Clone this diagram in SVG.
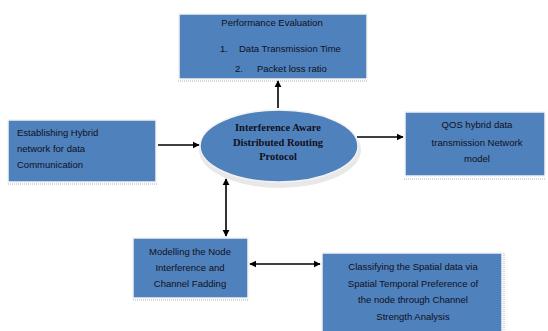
<svg xmlns="http://www.w3.org/2000/svg" width="548" height="331" viewBox="0 0 548 331">
<defs>
<style>
.box{fill:#4f81bd;stroke:#f2f2f2;stroke-width:1.5}
.shadow{stroke:#b0b0b0;stroke-width:1;stroke-dasharray:1 1;fill:none}
.t{font-family:"Liberation Sans",Arial,sans-serif;font-size:9.5px;fill:#10101c}
.c{text-anchor:middle}
.e{font-family:"Liberation Serif","Times New Roman",serif;font-size:10.5px;font-weight:bold;fill:#10101c;text-anchor:middle}
.ln{stroke:#000;stroke-width:1.6;fill:none}
</style>
<marker id="ah" viewBox="0 0 10 10" refX="9" refY="5" markerWidth="4.5" markerHeight="4.5" orient="auto-start-reverse">
<path d="M0,0 L10,5 L0,10 z" fill="#000"/>
</marker>
</defs>
<rect width="548" height="331" fill="#fff"/>
<g id="perf">
<rect class="box" x="179" y="14" width="188" height="65"/>
<line class="shadow" x1="178" y1="81" x2="368" y2="81"/>
<text class="t c" x="272" y="26">Performance Evaluation</text>
<text class="t" x="220" y="52">1.</text>
<text class="t" x="239" y="52">Data Transmission Time</text>
<text class="t" x="235" y="72">2.</text>
<text class="t" x="257" y="72">Packet loss ratio</text>
</g>
<g id="hybrid">
<rect class="box" x="8" y="120" width="148" height="62"/>
<line class="shadow" x1="8" y1="184" x2="157" y2="184"/>
<text class="t" x="17" y="136">Establishing Hybrid</text>
<text class="t" x="17" y="152">network for data</text>
<text class="t" x="17" y="168">Communication</text>
</g>
<g id="protocol">
<ellipse cx="279" cy="148" rx="81" ry="38" fill="#e8e8e8" transform="translate(1,2)"/>
<ellipse cx="279" cy="146" rx="79" ry="36" fill="#4f81bd" stroke="#f2f2f2" stroke-width="1.5"/>
<text class="e" x="278" y="131">Interference Aware</text>
<text class="e" x="278" y="146">Distributed Routing</text>
<text class="e" x="278" y="160">Protocol</text>
</g>
<g id="qos">
<rect class="box" x="405" y="112" width="140" height="64"/>
<line class="shadow" x1="404" y1="179" x2="546" y2="179"/>
<text class="t c" x="477" y="128">QOS hybrid data</text>
<text class="t c" x="477" y="146">transmission Network</text>
<text class="t c" x="477" y="162">model</text>
</g>
<g id="modelling">
<rect class="box" x="133" y="238" width="115" height="60"/>
<line class="shadow" x1="133" y1="300" x2="248" y2="300"/>
<text class="t c" x="190" y="255">Modelling the Node</text>
<text class="t c" x="190" y="271">Interference and</text>
<text class="t c" x="190" y="287">Channel Fadding</text>
</g>
<g id="classify">
<rect class="box" x="322" y="253" width="180" height="80"/>
<line class="shadow" x1="504" y1="253" x2="504" y2="331"/>
<text class="t c" x="413" y="270">Classifying the Spatial data via</text>
<text class="t c" x="413" y="287">Spatial Temporal Preference of</text>
<text class="t c" x="413" y="303">the node through Channel</text>
<text class="t c" x="413" y="320">Strength Analysis</text>
</g>
<g id="connectors">
<line class="ln" x1="278" y1="108" x2="278" y2="81" marker-end="url(#ah)"/>
<line class="ln" x1="158" y1="145" x2="199" y2="145" marker-end="url(#ah)"/>
<line class="ln" x1="357" y1="137" x2="403" y2="137" marker-end="url(#ah)"/>
<line class="ln" x1="226" y1="179" x2="226" y2="236" marker-start="url(#ah)" marker-end="url(#ah)"/>
<line class="ln" x1="250" y1="264" x2="320" y2="264" marker-start="url(#ah)" marker-end="url(#ah)"/>
</g>
</svg>
